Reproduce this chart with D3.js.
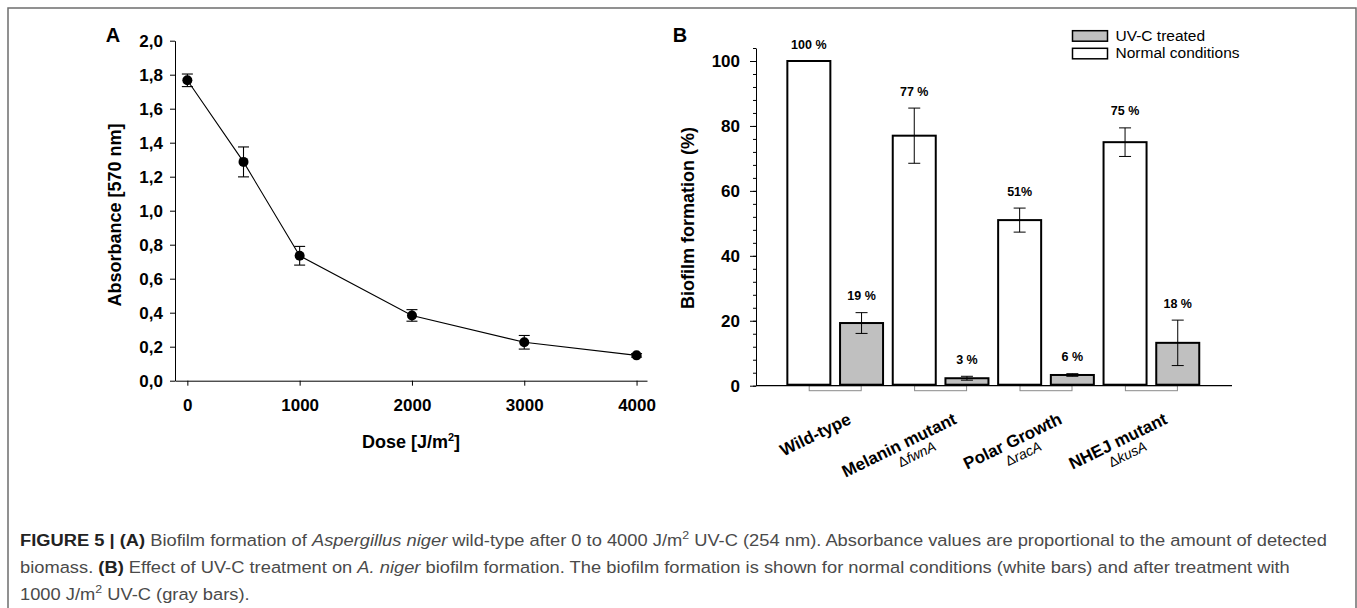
<!DOCTYPE html>
<html>
<head>
<meta charset="utf-8">
<script src="https://cdn.jsdelivr.net/npm/d3@7"></script>
<style>
  body { margin: 0; background: #fff; }
  svg { display: block; font-family: "Liberation Sans", Arial, sans-serif; }
</style>
</head>
<body>
<svg id="fig" width="1357" height="608"></svg>
<script>
// ---- panel A data
var doses = [0, 500, 1000, 2000, 3000, 4000];
var absorbance = [1.767, 1.287, 0.735, 0.384, 0.226, 0.149];
var absorbanceErr = [0.037, 0.088, 0.055, 0.034, 0.040, 0.010];
var aYTicks = [0, 0.2, 0.4, 0.6, 0.8, 1.0, 1.2, 1.4, 1.6, 1.8, 2.0];
var aXTicks = [0, 1000, 2000, 3000, 4000];

// ---- panel B data
var strains = ["Wild-type", "Melanin mutant", "Polar Growth", "NHEJ mutant"];
var strainGenes = ["", "fwnA", "racA", "kusA"];
var conditions = ["normal", "uv"];
var normalValues = [100, 77, 51, 75];
var normalErr = [0, 8.5, 3.7, 4.4];
var uvValues = [19.3, 2.3, 3.3, 13.2];
var uvErr = [3.2, 0.6, 0.4, 7.0];
var normalLabels = ["100 %", "77 %", "51%", "75 %"];
var uvLabels = ["19 %", "3 %", "6 %", "18 %"];
var bYTicks = [0, 20, 40, 60, 80, 100];
var legendItems = [
	{key: "uv", text: "UV-C treated"},
	{key: "normal", text: "Normal conditions"}
];
var fills = {normal: "#ffffff", uv: "#c0c0c0"};

var svg = d3.select("#fig");

// frame round the figure
svg.append("rect")
	.attr("x", 8).attr("y", 8)
	.attr("width", 1348).attr("height", 640)
	.attr("fill", "none")
	.attr("stroke", "#6e6e6e")
	.attr("stroke-width", 1.5);

var comma = d3.formatLocale({decimal: ",", thousands: ".", grouping: [3], currency: ["", ""]}).format(".1f");

// ================= panel A
(function() {
	var x = d3.scaleLinear().domain([-110, 4093]).range([175, 647]);
	var y = d3.scaleLinear().domain([0, 2]).range([380.7, 40.7]);
	var g = svg.append("g");

	g.append("text")
		.attr("x", 113).attr("y", 42)
		.attr("text-anchor", "middle")
		.attr("font-size", 20).attr("font-weight", "bold")
		.text("A");

	var yAx = g.append("g")
		.attr("transform", "translate(175,0)")
		.call(d3.axisLeft(y).tickValues(aYTicks).tickFormat(comma).tickSize(5).tickSizeOuter(0).tickPadding(7));
	var xAx = g.append("g")
		.attr("transform", "translate(0,380.7)")
		.call(d3.axisBottom(x).tickValues(aXTicks).tickFormat(d3.format("d")).tickSize(5).tickSizeOuter(0).tickPadding(13));
	[yAx, xAx].forEach(function(a) {
		a.selectAll("text").attr("font-size", 17).attr("font-weight", "bold").attr("fill", "#000")
			.attr("font-family", "Liberation Sans, Arial, sans-serif");
		a.selectAll("line, path").attr("stroke", "#000");
	});

	g.append("text")
		.attr("transform", "translate(121,215) rotate(-90)")
		.attr("text-anchor", "middle")
		.attr("font-size", 18).attr("font-weight", "bold")
		.text("Absorbance [570 nm]");

	var dl = g.append("text")
		.attr("x", 411).attr("y", 448)
		.attr("text-anchor", "middle")
		.attr("font-size", 18).attr("font-weight", "bold");
	dl.append("tspan").text("Dose [J/m");
	dl.append("tspan").attr("font-size", 11).attr("dy", -7).text("2");
	dl.append("tspan").attr("dy", 7).text("]");

	var pts = doses.map(function(d, i) { return {dose: d, v: absorbance[i], e: absorbanceErr[i]}; });

	g.append("path")
		.datum(pts)
		.attr("fill", "none")
		.attr("stroke", "#000")
		.attr("stroke-width", 1.1)
		.attr("d", d3.line().x(function(d) { return x(d.dose); }).y(function(d) { return y(d.v); }));

	var eb = g.append("g").attr("stroke", "#000").attr("stroke-width", 1.1);
	pts.forEach(function(d) {
		var cx = x(d.dose);
		eb.append("line").attr("x1", cx).attr("x2", cx).attr("y1", y(d.v + d.e)).attr("y2", y(d.v - d.e));
		eb.append("line").attr("x1", cx - 5.5).attr("x2", cx + 5.5).attr("y1", y(d.v + d.e)).attr("y2", y(d.v + d.e));
		eb.append("line").attr("x1", cx - 5.5).attr("x2", cx + 5.5).attr("y1", y(d.v - d.e)).attr("y2", y(d.v - d.e));
	});

	g.append("g").selectAll("circle")
		.data(pts)
		.enter()
		.append("circle")
		.attr("cx", function(d) { return x(d.dose); })
		.attr("cy", function(d) { return y(d.v); })
		.attr("r", 5)
		.attr("fill", "#000");
})();

// ================= panel B
(function() {
	var y = d3.scaleLinear().domain([0, 104]).range([385.7, 385.7 - 104 * 3.247]);
	var x0 = d3.scaleBand().domain(strains).range([782.5, 1204.1]);
	var x1 = d3.scaleBand().domain(conditions).range([0, x0.bandwidth()]).paddingInner(0.184).paddingOuter(0.092);
	var g = svg.append("g");

	g.append("text")
		.attr("x", 680).attr("y", 42)
		.attr("text-anchor", "middle")
		.attr("font-size", 20).attr("font-weight", "bold")
		.text("B");

	var rows = strains.map(function(s, i) {
		return {
			strain: s,
			gene: strainGenes[i],
			bars: [
				{key: "normal", v: normalValues[i], e: normalErr[i], label: normalLabels[i]},
				{key: "uv", v: uvValues[i], e: uvErr[i], label: uvLabels[i]}
			]
		};
	});

	// little boxes under the axis, one per group
	g.append("g").selectAll("rect")
		.data(rows)
		.enter()
		.append("rect")
		.attr("x", function(d) { return x0(d.strain) + x0.bandwidth() / 2 - 26; })
		.attr("y", y(0))
		.attr("width", 52)
		.attr("height", 5)
		.attr("fill", "#fff")
		.attr("stroke", "#8a8a8a")
		.attr("stroke-width", 1);

	var grp = g.append("g").selectAll("g")
		.data(rows)
		.enter()
		.append("g")
		.attr("transform", function(d) { return "translate(" + x0(d.strain) + ",0)"; });

	grp.selectAll("rect")
		.data(function(d) { return d.bars; })
		.enter()
		.append("rect")
		.attr("x", function(d) { return x1(d.key); })
		.attr("y", function(d) { return y(d.v); })
		.attr("width", x1.bandwidth())
		.attr("height", function(d) { return y(0) - y(d.v) - 1; })
		.attr("fill", function(d) { return fills[d.key]; })
		.attr("stroke", "#000")
		.attr("stroke-width", 2);

	grp.each(function(row) {
		var gg = d3.select(this);
		row.bars.forEach(function(d) {
			var cx = x1(d.key) + x1.bandwidth() / 2;
			if (d.e > 0) {
				gg.append("line").attr("x1", cx).attr("x2", cx).attr("y1", y(d.v + d.e)).attr("y2", y(d.v - d.e)).attr("stroke", "#000");
				gg.append("line").attr("x1", cx - 6).attr("x2", cx + 6).attr("y1", y(d.v + d.e)).attr("y2", y(d.v + d.e)).attr("stroke", "#000");
				gg.append("line").attr("x1", cx - 6).attr("x2", cx + 6).attr("y1", y(d.v - d.e)).attr("y2", y(d.v - d.e)).attr("stroke", "#000");
			}
			gg.append("text")
				.attr("x", cx)
				.attr("y", y(d.v + d.e) - 12.5)
				.attr("text-anchor", "middle")
				.attr("font-size", 12.5).attr("font-weight", "bold")
				.text(d.label);
		});
	});

	// axes
	var yAx = g.append("g")
		.attr("transform", "translate(756,0)")
		.call(d3.axisLeft(y).tickValues(bYTicks).tickSize(6).tickSizeOuter(0).tickPadding(10));
	yAx.selectAll("text").attr("font-size", 17).attr("font-weight", "bold").attr("fill", "#000")
		.attr("font-family", "Liberation Sans, Arial, sans-serif");
	yAx.selectAll("line, path").attr("stroke", "#000");
	g.append("g")
		.attr("transform", "translate(756,0)")
		.call(d3.axisLeft(y).tickValues(d3.range(0, 105, 4)).tickSize(3).tickFormat(""))
		.call(function(a) { a.select(".domain").remove(); a.selectAll("line").attr("stroke", "#000"); });

	g.append("line")
		.attr("x1", 756).attr("x2", 1232)
		.attr("y1", y(0)).attr("y2", y(0))
		.attr("stroke", "#000").attr("stroke-width", 1.2);

	g.append("text")
		.attr("transform", "translate(694,218) rotate(-90)")
		.attr("text-anchor", "middle")
		.attr("font-size", 18).attr("font-weight", "bold")
		.text("Biofilm formation (%)");

	// rotated category labels
	var lab = g.append("g").selectAll("g")
		.data(rows)
		.enter()
		.append("g")
		.attr("transform", function(d) { return "translate(" + (x0(d.strain) + x0.bandwidth() / 2 + 17) + ",423) rotate(-26)"; });
	lab.append("text")
		.attr("text-anchor", "end")
		.attr("font-size", 17).attr("font-weight", "bold")
		.text(function(d) { return d.strain; });
	var gl = lab.filter(function(d) { return d.gene; })
		.append("text")
		.attr("x", -30).attr("y", 15)
		.attr("text-anchor", "end")
		.attr("font-size", 14);
	gl.append("tspan").text("\u0394");
	gl.append("tspan").attr("font-style", "italic").text(function(d) { return d.gene; });

	// legend
	var lg = g.append("g").selectAll("g")
		.data(legendItems)
		.enter()
		.append("g")
		.attr("transform", function(d, i) { return "translate(1072.5," + (30.7 + i * 17.6) + ")"; });
	lg.append("rect")
		.attr("width", 35).attr("height", 10.5)
		.attr("fill", function(d) { return fills[d.key]; })
		.attr("stroke", "#000").attr("stroke-width", 1.5);
	lg.append("text")
		.attr("x", 43).attr("y", 10)
		.attr("font-size", 15.5)
		.text(function(d) { return d.text; });
})();

// ================= caption
(function() {
	var cap = svg.append("g").attr("fill", "#4a4a4a");
	var lines = [
		[["b", "FIGURE 5 | (A)"], ["r", " Biofilm formation of "], ["i", "Aspergillus niger"], ["r", " wild-type after 0 to 4000 J/m"], ["s", "2"], ["r", " UV-C (254 nm). Absorbance values are proportional to the amount of detected"]],
		[["r", "biomass. "], ["b", "(B)"], ["r", " Effect of UV-C treatment on "], ["i", "A. niger"], ["r", " biofilm formation. The biofilm formation is shown for normal conditions (white bars) and after treatment with"]],
		[["r", "1000 J/m"], ["s", "2"], ["r", " UV-C (gray bars)."]]
	];
	var texts = [];
	lines.forEach(function(parts, li) {
		var t = cap.append("text").attr("x", 0).attr("y", 546 + li * 27).attr("font-size", 17);
		var up = false;
		parts.forEach(function(p) {
			var ts = t.append("tspan").text(p[1]);
			if (p[0] === "b") ts.attr("font-weight", "bold").attr("fill", "#222");
			if (p[0] === "i") ts.attr("font-style", "italic");
			if (p[0] === "s") { ts.attr("font-size", 11.5).attr("dy", -6.5); up = true; }
			else if (up) { ts.attr("dy", 6.5); up = false; }
		});
		texts.push(t);
	});
	var natural = texts[0].node().getComputedTextLength();
	var sx = (1328 - 20) / natural;
	cap.attr("transform", "translate(20,0) scale(" + sx + ",1)");
})();
</script>
</body>
</html>
